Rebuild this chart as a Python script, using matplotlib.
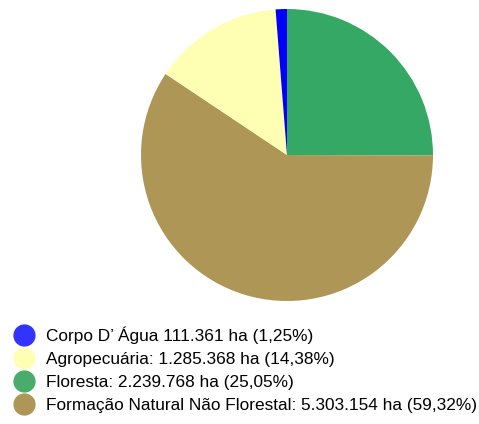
import matplotlib.pyplot as plt
from matplotlib.lines import Line2D

plt.rcParams['font.family'] = ['Liberation Sans', 'DejaVu Sans']

# legend order
labels = ["Corpo D\u2019 \u00c1gua 111.361 ha (1,25%)",
          "Agropecu\u00e1ria: 1.285.368 ha (14,38%)",
          "Floresta: 2.239.768 ha (25,05%)",
          "Forma\u00e7\u00e3o Natural N\u00e3o Florestal: 5.303.154 ha (59,32%)"]
values = [1.25, 14.38, 25.05, 59.32]
colors = ["#0000ff", "#ffffb3", "#34a864", "#ae9657"]
legend_colors = ["#3333ff", "#ffffb3", "#4aac6a", "#ae9657"]

# slices go clockwise from top: Floresta, Formacao, Agro, Agua
order = [2, 3, 1, 0]

fig = plt.figure(figsize=(4.79, 4.24), dpi=100)
ax = fig.add_axes([(287 - 146) / 479, (424 - 155 - 146) / 424, 292 / 479, 292 / 424])
ax.pie([values[i] for i in order], colors=[colors[i] for i in order],
       startangle=90, counterclock=False, radius=1.0)
ax.set_xlim(-1, 1)
ax.set_ylim(-1, 1)
ax.set_aspect('equal')
ax.axis('off')

handles = [Line2D([], [], marker='o', linestyle='none', markersize=15,
                  markerfacecolor=c, markeredgecolor=c) for c in legend_colors]
fig.legend(handles, labels, loc='upper left', bbox_to_anchor=(13.7 / 479, 1 - 327 / 424),
           frameon=False, fontsize=12.4, labelspacing=0.45, handletextpad=0.68,
           borderaxespad=0, borderpad=0, handlelength=1.2)

fig.savefig("out.png", dpi=100)
